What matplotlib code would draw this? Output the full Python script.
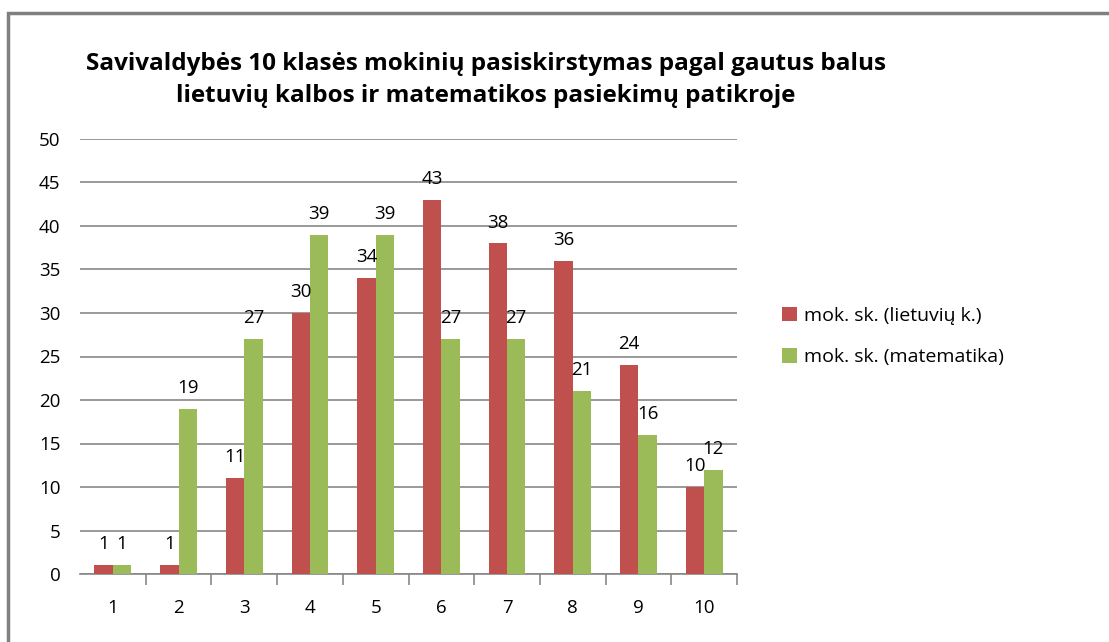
import matplotlib
matplotlib.use("Agg")
import matplotlib.pyplot as plt
from matplotlib.patches import Rectangle
import numpy as np

categories = ["1", "2", "3", "4", "5", "6", "7", "8", "9", "10"]
lietuviu = [1, 1, 11, 30, 34, 43, 38, 36, 24, 10]
matematika = [1, 19, 27, 39, 39, 27, 27, 21, 16, 12]
series_names = ["mok. sk. (lietuvių k.)", "mok. sk. (matematika)"]
title = "Savivaldybės 10 klasės mokinių pasiskirstymas pagal gautus balus\nlietuvių kalbos ir matematikos pasiekimų patikroje"

RED = "#C0504D"
GREEN = "#9BBB59"
GRID = "#878787"
FONT = ["Open Sans", "DejaVu Sans"]

plt.rcParams['font.family'] = FONT

fig = plt.figure(figsize=(11.09, 6.42), dpi=100)
ax = fig.add_axes([80/1109, 1-574/642, (737-80)/1109, (574-139)/642])

x = np.arange(len(categories))
w = 0.28
b1 = ax.bar(x - w/2, lietuviu, w, color=RED, label=series_names[0], zorder=3)
b2 = ax.bar(x + w/2, matematika, w, color=GREEN, label=series_names[1], zorder=3)

for bars in (b1, b2):
    for rect in bars:
        h = rect.get_height()
        ax.annotate(f"{int(h)}", (rect.get_x() + rect.get_width()/2, h),
                    xytext=(0, 8.5), textcoords="offset points",
                    ha="center", va="bottom", fontsize=13.5, color="black", zorder=4)

ax.set_xlim(-0.5, len(categories) - 0.5)
ax.set_ylim(0, 50)
ax.set_yticks(np.arange(0, 51, 5))
ax.yaxis.grid(True, color=GRID, linewidth=1.2, zorder=0)
ax.set_axisbelow(True)

ax.set_xticks(x)
ax.set_xticklabels(categories, fontsize=13.5)
ax.tick_params(axis="x", length=0, pad=18)
ax.set_xticks(np.arange(0.5, len(categories), 1.0), minor=True)
ax.tick_params(axis="x", which="minor", length=8, color=GRID, width=1.2)
ax.tick_params(axis="y", length=0, pad=14, labelsize=13.5)

for s in ["top", "right", "left"]:
    ax.spines[s].set_visible(False)
ax.spines["bottom"].set_color(GRID)
ax.spines["bottom"].set_linewidth(1.2)

fig.text(486/1109, 1-80/642, title, ha="center", va="center",
         fontsize=17.5, fontweight="bold", linespacing=1.5)

leg = fig.legend(handles=[b1, b2], loc="upper left",
                 bbox_to_anchor=(764/1109, 1-289/642), frameon=False,
                 fontsize=14, handlelength=0.8, handleheight=0.8,
                 handletextpad=0.35, labelspacing=1.2)

fig.patches.append(Rectangle((8/1109, -0.1), 1.2, 1.1 - 13/642,
                             transform=fig.transFigure, fill=False,
                             edgecolor="#808080", linewidth=2.5))

fig.savefig("out.png", dpi=100)
